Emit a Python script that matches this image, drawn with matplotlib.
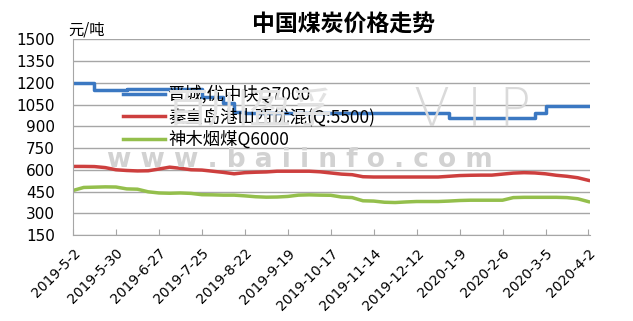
import numpy as np
import pandas as pd
import matplotlib
matplotlib.use("Agg")
import matplotlib.pyplot as plt

plt.rcParams['font.family'] = ['Noto Sans CJK SC', 'DejaVu Sans']

# weekly quotes, 2019-5-2 .. 2020-4-2
dates = pd.date_range("2019-05-02", periods=49, freq="7D")

jincheng = [1200, 1200, 1150, 1150, 1150, 1160, 1160, 1160, 1160, 1160,
            1160, 1160, 1100, 1100, 1060, 1000, 990, 990, 990, 990,
            990, 990, 990, 990, 990, 990, 990, 990, 990, 990,
            990, 990, 990, 990, 990, 960, 960, 960, 960, 960,
            960, 960, 960, 995, 1040, 1040, 1040, 1040, 1040]

qinhuangdao = [623, 623, 622, 615, 600, 595, 592, 593, 605, 618,
               610, 600, 598, 590, 582, 572, 580, 583, 585, 590,
               590, 590, 590, 586, 578, 570, 566, 552, 550, 550,
               550, 550, 550, 550, 550, 555, 560, 562, 563, 563,
               570, 577, 580, 578, 572, 562, 555, 545, 527]

shenmu = [457, 478, 480, 482, 481, 468, 466, 448, 440, 438,
          440, 437, 428, 427, 425, 425, 420, 414, 411, 412,
          416, 425, 427, 425, 424, 412, 408, 386, 384, 376,
          374, 378, 381, 381, 381, 384, 388, 390, 390, 390,
          390, 408, 410, 410, 410, 410, 408, 400, 380]

labels = ["晋城;优中块Q7000", "秦皇岛港山西优混(Q:5500)", "神木烟煤Q6000"]
colors = ["#3b78c2", "#cd3f3e", "#94bf4c"]
yticks = np.arange(150, 1501, 150)
xticks = dates[::4]

fig = plt.figure(figsize=(6.33, 3.21), dpi=100)
ax = fig.add_axes([73 / 633, 1 - 235 / 321, (590 - 73) / 633, (235 - 39.3) / 321])

# watermark
fig.text(300 / 633, 1 - 160 / 321, "w w w . b a i i n f o . c o m", color="#d2d2d2",
         fontsize=19, fontweight="bold", family="DejaVu Sans", ha="center", va="center", zorder=0)
fig.text(472 / 633, 1 - 111 / 321, "V I P", color="#dadada", fontsize=38,
         family="DejaVu Sans", fontweight="light", ha="center", va="center", zorder=0)
fig.text(250 / 633, 1 - 111 / 321, "百川盈孚", color="#e2e2e2", fontsize=30,
         ha="center", va="center", zorder=0)

ax.set_facecolor("none")
ax.plot(dates, jincheng, color=colors[0], lw=2.5, drawstyle="steps-post", label=labels[0])
ax.plot(dates, qinhuangdao, color=colors[1], lw=2.5, label=labels[1])
ax.plot(dates, shenmu, color=colors[2], lw=2.5, label=labels[2])

ax.set_ylim(150, 1500)
ax.set_yticks(yticks)
ax.set_yticklabels([str(v) for v in yticks], family="DejaVu Sans", fontsize=11)
ax.set_xlim(dates[0], dates[-1] + pd.Timedelta(days=1))
ax.set_xticks(xticks)
ax.set_xticklabels([f"{d.year}-{d.month}-{d.day}" for d in xticks], rotation=45,
                   ha="right", rotation_mode="anchor", family="DejaVu Sans", fontsize=10)
ax.grid(axis="y", color="#a6a6a6", lw=1)
ax.tick_params(axis="y", length=0, pad=13)
ax.tick_params(axis="x", direction="in", length=4, color="#a6a6a6", pad=8)
for s in ["top", "right"]:
    ax.spines[s].set_visible(False)
for s in ["left", "bottom"]:
    ax.spines[s].set_color("#a6a6a6")

ax.legend(loc="upper left", bbox_to_anchor=(123 / 633, 1 - 85 / 321), bbox_transform=fig.transFigure,
          frameon=False, fontsize=12.5, borderpad=0, borderaxespad=0, handletextpad=0.2,
          handlelength=2.4, labelspacing=0.25)

fig.text(343 / 633, 1 - 25 / 321, "中国煤炭价格走势", fontsize=16.5, fontweight="bold",
         ha="center", va="center")
fig.text(68 / 633, 1 - 30 / 321, "元/吨", fontsize=11, ha="left", va="center")

fig.savefig("out.png", dpi=100)
